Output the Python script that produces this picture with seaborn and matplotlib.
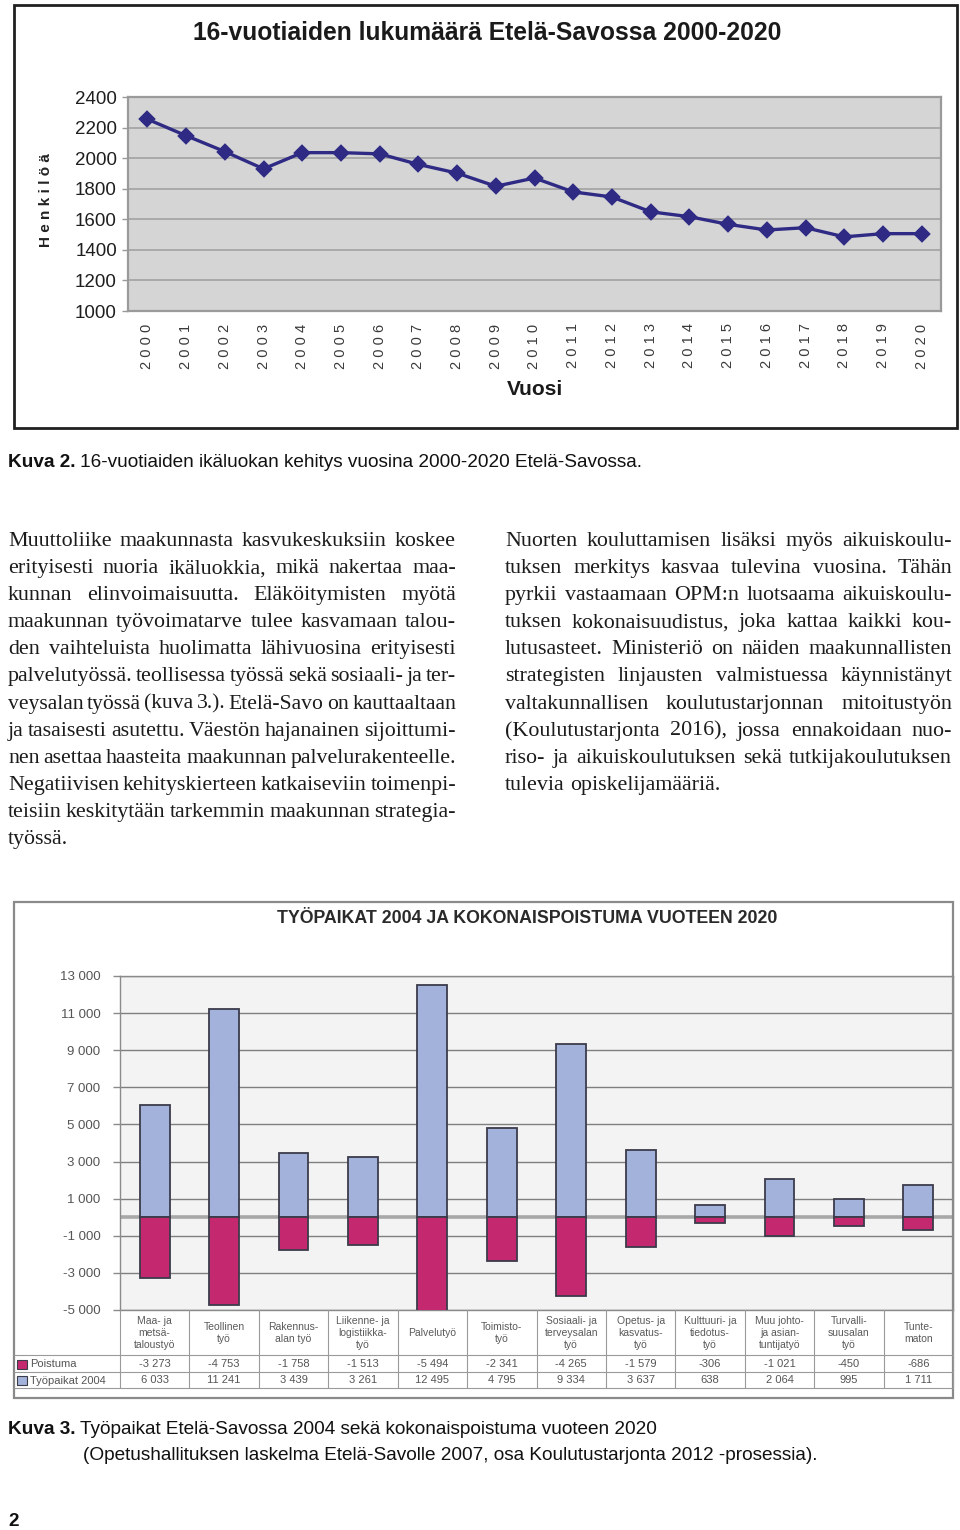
import matplotlib
matplotlib.use("Agg")
import matplotlib.pyplot as plt
import seaborn as sns
import numpy as np
import pandas as pd
from matplotlib.patches import Rectangle

# ---------------- data ----------------
years = list(range(2000, 2021))
count16 = [2255, 2147, 2043, 1930, 2036, 2036, 2028, 1959, 1902, 1816, 1870,
           1779, 1746, 1649, 1617, 1567, 1530, 1545, 1485, 1506, 1506]
y1_ticks = [1000, 1200, 1400, 1600, 1800, 2000, 2200, 2400]

categories = ["Maa- ja\nmetsä-\ntaloustyö", "Teollinen\ntyö", "Rakennus-\nalan työ",
              "Liikenne- ja\nlogistiikka-\ntyö", "Palvelutyö", "Toimisto-\ntyö",
              "Sosiaali- ja\nterveysalan\ntyö", "Opetus- ja\nkasvatus-\ntyö",
              "Kulttuuri- ja\ntiedotus-\ntyö", "Muu johto-\nja asian-\ntuntijatyö",
              "Turvalli-\nsuusalan\ntyö", "Tunte-\nmaton"]
poistuma = [-3273, -4753, -1758, -1513, -5494, -2341, -4265, -1579, -306, -1021, -450, -686]
tyopaikat = [6033, 11241, 3439, 3261, 12495, 4795, 9334, 3637, 638, 2064, 995, 1711]
y2_ticks = [-5000, -3000, -1000, 1000, 3000, 5000, 7000, 9000, 11000, 13000]

left_col = [
    "Muuttoliike maakunnasta kasvukeskuksiin koskee",
    "erityisesti nuoria ikäluokkia, mikä nakertaa maa-",
    "kunnan elinvoimaisuutta. Eläköitymisten myötä",
    "maakunnan työvoimatarve tulee kasvamaan talou-",
    "den vaihteluista huolimatta lähivuosina erityisesti",
    "palvelutyössä. teollisessa työssä sekä sosiaali- ja ter-",
    "veysalan työssä (kuva 3.). Etelä-Savo on kauttaaltaan",
    "ja tasaisesti asutettu. Väestön hajanainen sijoittumi-",
    "nen asettaa haasteita maakunnan palvelurakenteelle.",
    "Negatiivisen kehityskierteen katkaiseviin toimenpi-",
    "teisiin keskitytään tarkemmin maakunnan strategia-",
    "työssä.",
]
right_col = [
    "Nuorten kouluttamisen lisäksi myös aikuiskoulu-",
    "tuksen merkitys kasvaa tulevina vuosina. Tähän",
    "pyrkii vastaamaan OPM:n luotsaama aikuiskoulu-",
    "tuksen kokonaisuudistus, joka kattaa kaikki kou-",
    "lutusasteet. Ministeriö on näiden maakunnallisten",
    "strategisten linjausten valmistuessa käynnistänyt",
    "valtakunnallisen koulutustarjonnan mitoitustyön",
    "(Koulutustarjonta 2016), jossa ennakoidaan nuo-",
    "riso- ja aikuiskoulutuksen sekä tutkijakoulutuksen",
    "tulevia opiskelijamääriä.",
]

# ---------------- fonts ----------------
SANS = "Liberation Sans"
NARROW = "Liberation Sans"
SERIF = "Liberation Serif"

sns.set_theme(style="white")
plt.rcParams["font.family"] = [SANS, "DejaVu Sans"]

W, H = 960, 1530
fig = plt.figure(figsize=(W / 100, H / 100), dpi=100)
fig.patch.set_facecolor("white")

def fax(x0, y0, x1, y1):
    return [x0 / W, 1 - y1 / H, (x1 - x0) / W, (y1 - y0) / H]

# overlay in pixel coords
ov = fig.add_axes([0, 0, 1, 1], zorder=5)
ov.set_xlim(0, W)
ov.set_ylim(H, 0)
ov.axis("off")
ov.patch.set_alpha(0)
renderer = fig.canvas.get_renderer()

# ---------------- top chart ----------------
ov.add_patch(Rectangle((14, 5), 943, 423, fill=False, ec="#202020", lw=2.0))
ax1 = fig.add_axes(fax(128, 97, 941, 311))
df1 = pd.DataFrame({"year": [str(y) for y in years], "n": count16})
sns.pointplot(data=df1, x="year", y="n", ax=ax1, color="#2f2b85", markers="D",
              markersize=7.5, linewidth=2.4, errorbar=None)
ax1.set_xlim(-0.5, len(years) - 0.5)
ax1.set_ylim(1000, 2400)
ax1.set_facecolor("#d5d5d5")
ax1.set_yticks(y1_ticks)
ax1.set_yticklabels([str(v) for v in y1_ticks], fontsize=13.5, color="#1e1e1e", family=SANS)
ax1.yaxis.grid(True, color="#a9a9a9", lw=1.4)
ax1.set_axisbelow(True)
ax1.set_xticks(range(len(years)))
ax1.set_xticklabels([" ".join(str(y)) for y in years], rotation=90, fontsize=10.5,
                    color="#3a3a3a", family=SANS, va="top")
ax1.set_xticks(np.arange(-0.5, len(years), 1.0), minor=True)
ax1.tick_params(axis="x", which="major", length=0, pad=9)
ax1.tick_params(axis="x", which="minor", length=5, width=1, color="#999999", direction="out")
ax1.tick_params(axis="y", length=4, width=1, color="#999999", direction="out", left=True, pad=4)
ax1.set_xlabel("")
ax1.set_ylabel("")
for s in ax1.spines.values():
    s.set_color("#9a9a9a")
    s.set_linewidth(1.6)

ov.text(487, 33, "16-vuotiaiden lukumäärä Etelä-Savossa 2000-2020", ha="center", va="center",
        fontsize=17.7, fontweight="bold", family=NARROW, color="#1a1a1a")
ov.text(46, 200, "H e n k i l ö ä", rotation=90, ha="center", va="center", fontsize=11,
        fontweight="bold", family=SANS, color="#222222")
ov.text(535, 389, "Vuosi", ha="center", va="center", fontsize=15, fontweight="bold",
        family=NARROW, color="#1a1a1a")

# ---------------- captions helper ----------------
def caption(x, yb, bold, rest, fs=13.7):
    t = ov.text(x, yb, bold, fontsize=fs, fontweight="bold", family=NARROW,
                va="baseline", ha="left", color="#111111")
    w = t.get_window_extent(renderer).width
    ov.text(x + w + fs * 0.3, yb, rest, fontsize=fs, family=NARROW,
            va="baseline", ha="left", color="#111111")

caption(8, 467, "Kuva 2.", "16-vuotiaiden ikäluokan kehitys vuosina 2000-2020 Etelä-Savossa.")

# ---------------- justified body text ----------------
def natural_width(line, fs):
    t = ov.text(0, 0, line, fontsize=fs, family=SERIF)
    w = t.get_window_extent(renderer).width
    t.remove()
    return w

body_fs = 15.8

def justify(lines, x0, x1, y0, dy):
    target = x1 - x0
    for i, line in enumerate(lines):
        yb = y0 + i * dy
        words = line.split(" ")
        last = i == len(lines) - 1
        fs = body_fs
        # tightly set lines get a slightly smaller size, as in the typeset original
        nat = natural_width(line, fs)
        sp = natural_width("a a", fs) - natural_width("aa", fs)
        min_needed = nat - (len(words) - 1) * sp + (len(words) - 1) * 3.5
        if min_needed > target:
            fs = fs * target / min_needed
            sp = natural_width("a a", fs) - natural_width("aa", fs)
        arts = [ov.text(0, yb, w, fontsize=fs, family=SERIF, va="baseline",
                        ha="left", color="#1c1c1c") for w in words]
        widths = [a.get_window_extent(renderer).width for a in arts]
        if last or len(words) == 1:
            gap = sp
        else:
            gap = (target - sum(widths)) / (len(words) - 1)
        x = x0
        for a, w in zip(arts, widths):
            a.set_x(x)
            x += w + gap

justify(left_col, 8, 456, 546, 27.09)
justify(right_col, 505, 952, 546, 27.09)

# ---------------- bottom chart ----------------
ov.add_patch(Rectangle((14, 902), 939, 496, fill=False, ec="#8a8a8a", lw=1.6))
ax2 = fig.add_axes(fax(120, 976, 953, 1310))
df2 = pd.DataFrame({"cat": categories, "tp": tyopaikat, "po": poistuma})
ax2.set_facecolor("#f3f3f3")
sns.barplot(data=df2, x="cat", y="tp", ax=ax2, color="#a3b2da", saturation=1, width=0.43,
            edgecolor="#3b3b4a", linewidth=1.3, errorbar=None, zorder=3)
sns.barplot(data=df2, x="cat", y="po", ax=ax2, color="#c4296f", saturation=1, width=0.43,
            edgecolor="#3b3b4a", linewidth=1.3, errorbar=None, zorder=3)
ax2.set_xlim(-0.5, len(categories) - 0.5)
ax2.set_ylim(-5000, 13000)
ax2.set_yticks(y2_ticks)
ax2.set_yticklabels([f"{v:,}".replace(",", " ") for v in y2_ticks], fontsize=9.5,
                    color="#555555", family=SANS)
ax2.yaxis.grid(True, color="#7f7f7f", lw=1.0, zorder=1)
ax2.axhline(0, color="#a8a8a8", lw=2.6, zorder=2)
ax2.set_axisbelow(True)
ax2.tick_params(axis="y", length=5, width=1, color="#8a8a8a", direction="out", left=True, pad=9)
ax2.set_xticks([])
ax2.set_xlabel("")
ax2.set_ylabel("")
for s in ax2.spines.values():
    s.set_color("#8a8a8a")
    s.set_linewidth(1.0)

ov.text(527, 918, "TYÖPAIKAT 2004 JA KOKONAISPOISTUMA VUOTEEN 2020", ha="center", va="center",
        fontsize=12.8, fontweight="bold", family=SANS, color="#2a2a2a")

# data table under the bars
x_left, x_right = 120, 953
colw = (x_right - x_left) / len(categories)
lc = "#9a9a9a"
for i in range(len(categories) + 1):
    xe = x_left + i * colw
    ov.plot([xe, xe], [1310, 1388], color=lc, lw=0.8)
for yl in (1355, 1372, 1388):
    ov.plot([14, x_right], [yl, yl], color=lc, lw=0.8)
fmt = lambda v: f"{v:,}".replace(",", " ")
for i, cat in enumerate(categories):
    xc = x_left + (i + 0.5) * colw
    ov.text(xc, 1333, cat, ha="center", va="center", fontsize=7.5, color="#5a5a5a",
            linespacing=1.25, family=SANS)
    ov.text(xc, 1364, fmt(poistuma[i]), ha="center", va="center", fontsize=8, color="#555555", family=SANS)
    ov.text(xc, 1380, fmt(tyopaikat[i]), ha="center", va="center", fontsize=8, color="#555555", family=SANS)
ov.add_patch(Rectangle((17, 1359.5), 10, 9, fc="#c4296f", ec="#3b3b4a", lw=0.8))
ov.add_patch(Rectangle((17, 1376), 10, 9, fc="#a3b2da", ec="#3b3b4a", lw=0.8))
ov.text(30, 1364, "Poistuma", ha="left", va="center", fontsize=8, color="#555555", family=SANS)
ov.text(30, 1380.5, "Työpaikat 2004", ha="left", va="center", fontsize=8, color="#555555", family=SANS)

caption(8, 1434, "Kuva 3.", "Työpaikat Etelä-Savossa 2004 sekä kokonaispoistuma vuoteen 2020")
ov.text(83, 1460, "(Opetushallituksen laskelma Etelä-Savolle 2007, osa Koulutustarjonta 2012 -prosessia).",
        fontsize=13.7, family=NARROW, va="baseline", ha="left", color="#111111")
ov.text(8, 1526, "2", fontsize=13.7, fontweight="bold", family=NARROW,
        va="baseline", ha="left", color="#111111")

fig.savefig("out.png", dpi=100, facecolor="white")
